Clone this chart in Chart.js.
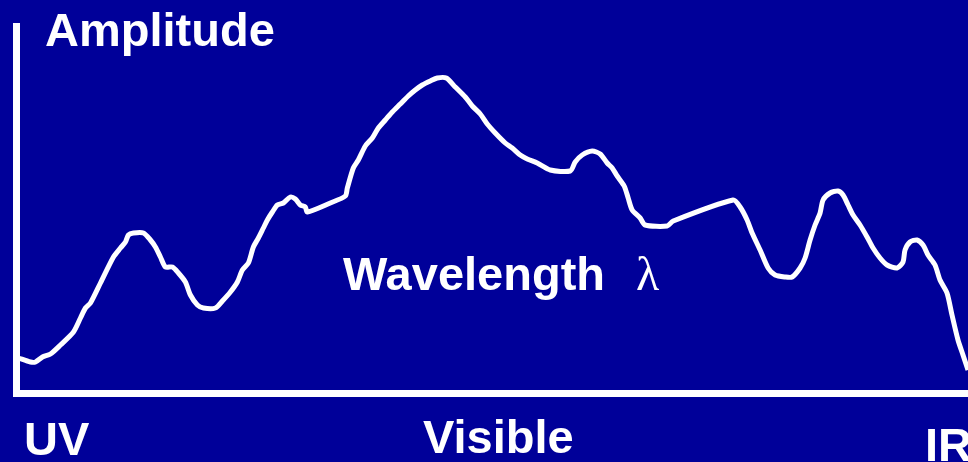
<meta charset="utf8"/>
<style>
	html, body {margin:0; padding:0; background:#000099;}
	#_box {width:968px; height:462px; position:relative;}
</style>

<div id="_box"><canvas id="_cv"></canvas></div>

<script src="https://cdn.jsdelivr.net/npm/chart.js"></script>
<script>
// spectrum (arbitrary units, wavelength grows to the right)
const wavelength = [2,14,19,26,34,44,57,64,69,74,84,97,104,109,112,117,127,134,139,144,149,156,162,169,174,181,187,199,206,214,221,226,232,237,242,247,251,256,261,267,274,279,284,289,291,314,329,331,337,342,349,356,362,369,376,384,392,399,406,414,421,430,439,449,456,464,471,479,489,496,504,511,521,534,554,559,566,576,584,591,596,601,608,612,616,624,629,651,657,717,724,731,736,744,752,759,769,776,784,789,794,799,804,807,814,822,827,832,837,844,851,857,864,871,881,887,889,894,901,907,912,919,924,931,936,942,947,952];
const amplitude  = [35,31,31,36,39,48,61,75,85,90,110,136,145,151,158,160,160,153,146,136,126,126,120,111,98,88,85,85,92,101,111,123,130,146,155,165,173,181,188,190,196,194,188,186,181,190,197,205,225,233,247,255,265,273,281,289,297,303,308,312,315,315,306,296,287,279,269,260,250,245,238,234,230,223,222,231,238,242,239,230,225,217,207,195,183,175,168,167,172,193,186,173,160,143,125,118,116,116,125,135,153,168,180,193,200,202,198,188,178,168,156,145,135,128,125,131,143,151,153,148,138,128,113,100,78,53,38,23];

const labelTexts = ['Amplitude', 'Wavelength', 'λ', 'UV', 'Visible', 'IR'];

// where each label sits on the canvas, and its face
const labelPlaces = [
	{x: 45,  y: 46,  font: 'bold 47px "Liberation Sans", Arial, sans-serif'},
	{x: 343, y: 290, font: 'bold 47px "Liberation Sans", Arial, sans-serif'},
	{x: 636, y: 290, font: '48px "Liberation Serif", "Times New Roman", serif'},
	{x: 24,  y: 455, font: 'bold 47px "Liberation Sans", Arial, sans-serif'},
	{x: 423, y: 453, font: 'bold 47px "Liberation Sans", Arial, sans-serif'},
	{x: 925, y: 461, font: 'bold 47px "Liberation Sans", Arial, sans-serif'},
];

const textPlugin = {
	id: 'texts',
	afterDraw(chart) {
		const ctx = chart.ctx;
		ctx.save();
		ctx.fillStyle = 'white';
		ctx.textAlign = 'left';
		ctx.textBaseline = 'alphabetic';
		labelTexts.forEach((t, i) => {
			ctx.font = labelPlaces[i].font;
			ctx.fillText(t, labelPlaces[i].x, labelPlaces[i].y);
		});
		ctx.restore();
	}
};

const axisStyle = {
	display: true,
	grid: {display: false, drawTicks: false},
	ticks: {display: false},
	border: {display: true, color: 'white', width: 7},
};

new Chart(_cv, {
	type: 'line',
	data: {
		datasets: [{
			data: wavelength.map((w, i) => ({x: w, y: amplitude[i]})),
			borderColor: 'white',
			borderWidth: 5,
			pointRadius: 0,
			tension: 0.25,
			fill: false,
		}]
	},
	options: {
		responsive: true,
		maintainAspectRatio: false,
		animation: false,
		layout: {padding: {left: 16.5, top: 26, right: 0, bottom: 69}},
		scales: {
			x: {...axisStyle, type: 'linear', min: 0, max: 952},
			y: {...axisStyle, min: 0, max: 367},
		},
		plugins: {
			legend: {display: false},
			tooltip: {enabled: false},
		}
	},
	plugins: [textPlugin]
});
</script>
